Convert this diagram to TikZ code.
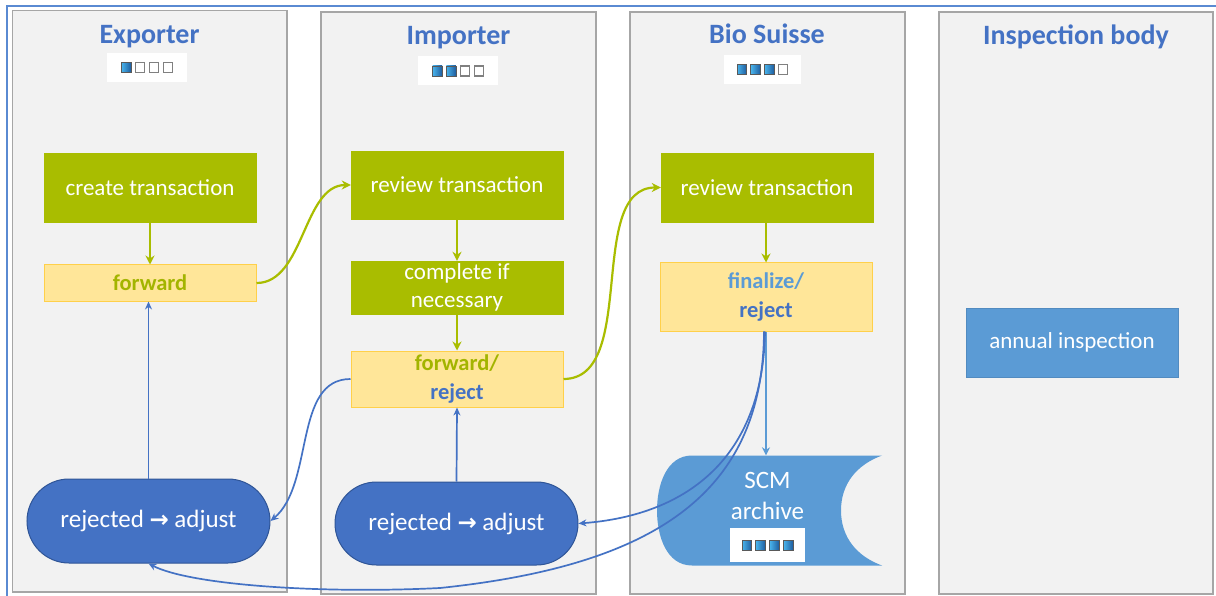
\documentclass[tikz,border=0pt]{standalone}
\usepackage{fontspec}
\setmainfont{Carlito}
\newfontfamily\arrowfont{DejaVu Sans}
\usetikzlibrary{arrows.meta,shapes.misc}
\definecolor{lanefill}{HTML}{F2F2F2}
\definecolor{laneline}{HTML}{A6A6A6}
\definecolor{titleblue}{HTML}{4472C4}
\definecolor{olive}{HTML}{A9BD00}
\definecolor{olivetext}{HTML}{A3B400}
\definecolor{yfill}{HTML}{FFE699}
\definecolor{yline}{HTML}{FFD04A}
\definecolor{dblue}{HTML}{4472C4}
\definecolor{dbline}{HTML}{2F5597}
\definecolor{lblue}{HTML}{5B9BD5}
\definecolor{framecol}{HTML}{5A8AD2}
\definecolor{sqlight}{HTML}{49B4EC}
\definecolor{sqdark}{HTML}{1E5C9E}
\tikzset{
  x=1pt, y=-1pt,
  lane/.style={draw=laneline, fill=lanefill, line width=1.3pt},
  lanetitle/.style={anchor=base, text=titleblue, font=\fontsize{28}{32}\selectfont\bfseries, inner sep=0},
  indbox/.style={fill=white, draw=none, minimum width=80, minimum height=29, inner sep=0},
  sqfull/.style={left color=sqlight, right color=sqdark, draw=black!65, line width=0.8pt},
  sqempty/.style={fill=white, draw=black!50, line width=1.1pt},
  greenbox/.style={fill=olive, draw=olive, text=white, minimum width=212, inner sep=0,
     align=center, font=\fontsize{23}{28}\selectfont},
  yellowbox/.style={fill=yfill, draw=yline, line width=1pt, minimum width=212, inner sep=0,
     align=center, font=\fontsize{22.5}{29}\selectfont\bfseries},
  pill/.style={rounded rectangle, fill=dblue, draw=dbline, line width=1pt, text=white,
     minimum width=243, minimum height=84, inner sep=0, font=\fontsize{25}{30}\selectfont},
  lbbox/.style={fill=lblue, draw=lblue!90!black, text=white, minimum width=212, minimum height=69,
     inner sep=0, font=\fontsize{23}{28}\selectfont},
  garrow/.style={draw=olive, line width=2.2pt, -{Stealth[length=9pt,width=9pt]}},
  barrow/.style={draw=dblue, line width=1.7pt, -{Stealth[length=8pt,width=7pt]}},
  lbarrow/.style={draw=lblue, line width=1.8pt, -{Stealth[length=8pt,width=8pt]}},
}
\newcommand\myindic[5]{%
  \node[indbox,#5] (#1) at (#2,#3) {};
  \foreach \k in {1,...,4}{%
    \pgfmathsetmacro\sqx{#2-20.7+13.8*(\k-1)}%
    \ifnum\k>#4\relax
      \draw[sqempty] (\sqx-4.6,#3-5) rectangle (\sqx+4.6,#3+5);
    \else
      \draw[sqfull] (\sqx-4.8,#3-5) rectangle (\sqx+4.8,#3+5);
    \fi
  }%
}
\newcommand\thickarrow{{\arrowfont\bfseries\fontsize{23}{28}\selectfont →}}
\begin{document}
\begin{tikzpicture}
\useasboundingbox (0,0) rectangle (1216,596);
\fill[white] (0,0) rectangle (1216,596);
% outer frame fragment
\draw[framecol, line width=2.2pt] (7,596) -- (7,6) -- (1216,6);
% lanes
\draw[lane] (12.5,10.5) rectangle (287,592);
\draw[lane] (321,12) rectangle (596,594);
\draw[lane] (630,12) rectangle (905,594);
\draw[lane] (939,12) rectangle (1213,594);
% titles
\node[lanetitle] (tE) at (149.5,43.5) {Exporter};
\node[lanetitle] (tI) at (458.5,44.3) {Importer};
\node[lanetitle] (tB) at (767,43.3) {Bio Suisse};
\node[lanetitle] (tX) at (1076,44.5) {Inspection body};
% indicators
\myindic{iE}{147}{67.5}{1}{}
\myindic{iI}{458}{71}{2}{}
\myindic{iB}{762.5}{69.5}{3}{minimum width=77}
% Exporter nodes
\node[greenbox, minimum height=69] (create) at (150,187.5) {create transaction};
\node[yellowbox, minimum height=36, text=olivetext] (fwdE) at (150,283) {forward};
\node[pill] (rejE) at (148.5,521) {rejected \thickarrow{} adjust};
% Importer nodes
\node[greenbox, minimum height=68] (revI) at (457,185) {review transaction};
\node[greenbox, minimum height=53] (compl) at (457,287.5) {complete if\\necessary};
\node[yellowbox, minimum height=56] (fwdR) at (457,379) {\textcolor{olivetext}{forward/}\\\textcolor{dblue}{reject}};
\node[pill, minimum height=83] (rejI) at (456.5,523.5) {rejected \thickarrow{} adjust};
% Bio Suisse nodes
\node[greenbox, minimum height=69] (revB) at (767,187.5) {review transaction};
\node[yellowbox, minimum height=68] (fin) at (766,297) {\textcolor{lblue}{finalize/}\\\textcolor{dblue}{reject}};
% SCM archive
\fill[lblue] (692,455.5) -- (882,455.5) to[out=200,in=90] (841,510.5) to[out=-90,in=160] (882,565.5)
   -- (692,565.5) to[out=180,in=-90] (657,510.5) to[out=90,in=180] (692,455.5) -- cycle;
\node[minimum width=225, minimum height=110, inner sep=0] (scm) at (769.5,510.5) {};
\node[text=white, font=\fontsize{25}{28}\selectfont, inner sep=0] (scmA) at (767.5,480) {SCM};
\node[text=white, font=\fontsize{25}{28}\selectfont, inner sep=0] (scmB) at (767.5,511) {archive};
\myindic{iS}{767.5}{545}{4}{minimum width=75, minimum height=34}
% Inspection body
\node[lbbox] (annual) at (1072,342.5) {annual inspection};
% green connectors
\draw[garrow] (create) -- (fwdE);
\draw[garrow] (fwdE.east) to[out=0,in=180,looseness=0.9] (revI.west);
\draw[garrow] (revI) -- (compl);
\draw[garrow] (compl) -- (fwdR);
\draw[garrow] (fwdR.east) to[out=0,in=180,looseness=0.9] (revB.west);
\draw[garrow] (revB.south -| fin) -- (fin.north);
% blue connectors
\draw[lbarrow] (fin.south) -- (fin.south |- scm.north);
\draw[barrow] (rejE.north) -- (rejE.north |- fwdE.south);
\draw[barrow] (rejI.north) -- (fwdR.south);
\draw[barrow] (fwdR.west) to[out=180,in=40,looseness=0.9] (rejE.east);
\draw[barrow] ([xshift=-1pt]fin.south) .. controls (763,455) and (690,515) .. (rejI.east);
\draw[barrow] ([xshift=-2pt]fin.south) .. controls (763,490) and (660,565) .. (440,588)
   .. controls (320,594) and (190,585) .. (rejE.south);
\end{tikzpicture}
\end{document}
